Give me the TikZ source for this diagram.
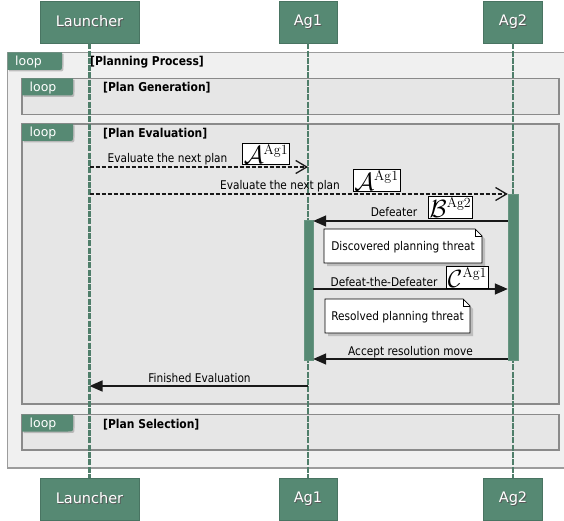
\documentclass[tikz,border=0pt]{standalone}
\usepackage{fontspec}
\usetikzlibrary{arrows.meta,shadows,calc}
\newfontfamily\lblfont[FakeStretch=0.88]{DejaVu Sans}
\newfontfamily\headfont{DejaVu Sans}
\definecolor{actor}{RGB}{86,137,115}
\definecolor{outerfill}{RGB}{240,240,240}
\definecolor{innerfill}{RGB}{230,230,230}
\definecolor{framegray}{RGB}{138,138,138}
\definecolor{msgink}{RGB}{25,25,25}

% white lettering with a soft dark shadow
\newcommand\shadowtext[1]{\makebox[0pt][l]{\hspace{1pt}\raisebox{-1pt}{\textcolor{black!65}{#1}}}#1}
% superscript owner tag of a move
\newcommand\owner[1]{\hbox{\fontsize{14}{14}\selectfont #1}}
% tab in the upper left corner of a combined fragment
\newcommand\looptab[5]{%
  \path[tabshape] (#1,#2) -- (#3,#2) -- ($(#3,#4)+(0,-5)$) .. controls (#3,#4) .. ($(#3,#4)+(-5,0)$) -- (#1,#4) -- cycle;
  \node[tablabel, anchor=base west] (#5) at ($(#1,#4)+(7.5,-4)$) {loop};}
% note sheet with a folded corner
\newcommand\notesheet[4]{%
  \path[notepaper] (#1,#2) -- ($(#3,#2)+(-7,0)$) -- ($(#3,#2)+(0,7)$) -- (#3,#4) -- (#1,#4) -- cycle;
  \draw[line width=0.7pt] ($(#3,#2)+(-7,0)$) -- ($(#3,#2)+(-7,7)$) -- ($(#3,#2)+(0,7)$);}

\begin{document}
\begin{tikzpicture}[x=1pt,y=-1pt,
  actorbox/.style={fill=actor, draw=actor!85!black, line width=0.5pt, text=white,
    font=\headfont\fontsize{14.5}{14.5}\selectfont, minimum height=42pt, inner sep=0pt},
  lifeline/.style={draw=actor!92!black, line width=2.2pt, dash pattern=on 6pt off 1.3pt},
  outerframe/.style={fill=outerfill, draw=framegray!85, line width=1.4pt},
  innerframe/.style={fill=innerfill, draw=framegray, line width=1.8pt},
  tabshape/.style={fill=actor, drop shadow={shadow xshift=1.5pt, shadow yshift=-1.5pt, opacity=0.45}},
  tablabel/.style={text=white, font=\headfont\fontsize{12.5}{12.5}\selectfont, inner sep=0pt},
  framelabel/.style={font=\lblfont\bfseries\fontsize{12.2}{12.2}\selectfont, inner sep=0pt, anchor=base west},
  bar/.style={fill=actor, draw=actor!90!white, line width=0.4pt, inner sep=0pt},
  dashmsg/.style={draw=msgink, line width=1.3pt, dash pattern=on 4pt off 2pt,
    -{Straight Barb[length=11pt,width=13pt,line width=1.3pt]}},
  solidmsg/.style={draw=msgink, line width=1.5pt, -{Triangle[length=13pt,width=11pt]}},
  msglabel/.style={font=\lblfont\fontsize{12}{12}\selectfont, inner sep=0pt, anchor=base},
  mathbox/.style={draw=black, line width=0.7pt, fill=white, inner sep=1.2pt,
    font=\fontsize{23}{23}\selectfont},
  notepaper/.style={fill=white, draw=black, line width=0.7pt,
    drop shadow={shadow xshift=3pt, shadow yshift=-3pt, opacity=0.4}},
  notetext/.style={font=\lblfont\fontsize{12}{12}\selectfont, inner sep=0pt}
]
\useasboundingbox (0,0) rectangle (564,521);

% combined fragments
\path[outerframe] (7.5,52.5) rectangle (568,468);
\looptab{7.5}{52.5}{62}{70}{tab0}
\node[framelabel] (fr0) at (90,66) {[Planning Process]};

\path[innerframe] (22,78.5) rectangle (559,114.5);
\looptab{22}{78.5}{73}{95.5}{tab1}
\node[framelabel] (fr1) at (103,92) {[Plan Generation]};

\path[innerframe] (22,124) rectangle (559,404);
\looptab{22}{124}{73}{141}{tab2}
\node[framelabel] (fr2) at (103,137.5) {[Plan Evaluation]};

\path[innerframe] (22,414.5) rectangle (559,450);
\looptab{22}{414.5}{73}{431.5}{tab3}
\node[framelabel] (fr3) at (103,428) {[Plan Selection]};

% participants
\node[actorbox, minimum width=99pt] (lh) at (89.5,22) {\shadowtext{Launcher}};
\node[actorbox, minimum width=58pt] (ah) at (308,22) {\shadowtext{Ag1}};
\node[actorbox, minimum width=59pt] (bh) at (513,22) {\shadowtext{Ag2}};
\node[actorbox, minimum width=99pt] (lf) at (89.5,499) {\shadowtext{Launcher}};
\node[actorbox, minimum width=58pt] (af) at (308,499) {\shadowtext{Ag1}};
\node[actorbox, minimum width=59pt] (bf) at (513,499) {\shadowtext{Ag2}};

\draw[lifeline] (lh.south) -- (lf.north);
\draw[lifeline] (ah.south) -- (af.north);
\draw[lifeline] (bh.south) -- (bf.north);

% activations
\node[bar, minimum width=9pt, minimum height=140pt] (act1) at (308.5,290) {};
\node[bar, minimum width=10pt, minimum height=166pt] (act2) at (513,277) {};

% messages
\coordinate (m1s) at (lh.center |- 0,167);
\coordinate (m1e) at (ah.center |- 0,167);
\draw[dashmsg] (m1s) -- (m1e);
\node[msglabel] (t1) at (167.5,163) {Evaluate the next plan};
\node[mathbox] (f1) at (266,154) {$\mathcal{A}^{\owner{Ag1}}$};

\coordinate (m2s) at (lh.center |- 0,194);
\coordinate (m2e) at (act2.west |- 0,194);
\draw[dashmsg] (m2s) -- (m2e);
\node[msglabel] (t2) at (280,190) {Evaluate the next plan};
\node[mathbox] (f2) at (376.5,180.5) {$\mathcal{A}^{\owner{Ag1}}$};

\coordinate (m3s) at (act2.west |- 0,221);
\coordinate (m3e) at (act1.east |- 0,221);
\draw[solidmsg] (m3s) -- (m3e);
\node[msglabel] (t3) at (394,217) {Defeater};
\node[mathbox] (f3) at (450.5,207.5) {$\mathcal{B}^{\owner{Ag2}}$};

\notesheet{324}{229}{482}{263}
\node[notetext] (n1) at (403,247) {Discovered planning threat};

\coordinate (m4s) at (act1.east |- 0,289);
\coordinate (m4e) at (act2.west |- 0,289);
\draw[solidmsg] (m4s) -- (m4e);
\node[msglabel] (t4) at (384,286) {Defeat-the-Defeater};
\node[mathbox] (f4) at (467.5,277.5) {$\mathcal{C}^{\owner{Ag1}}$};

\notesheet{325}{299}{470}{333}
\node[notetext] (n2) at (397.5,317) {Resolved planning threat};

\coordinate (m5s) at (act2.west |- 0,359);
\coordinate (m5e) at (act1.east |- 0,359);
\draw[solidmsg] (m5s) -- (m5e);
\node[msglabel] (t5) at (410.5,355.5) {Accept resolution move};

\coordinate (m6s) at (ah.center |- 0,386);
\coordinate (m6e) at (lh.center |- 0,386);
\draw[solidmsg] (m6s) -- (m6e);
\node[msglabel] (t6) at (199.5,382) {Finished Evaluation};
\end{tikzpicture}
\end{document}
